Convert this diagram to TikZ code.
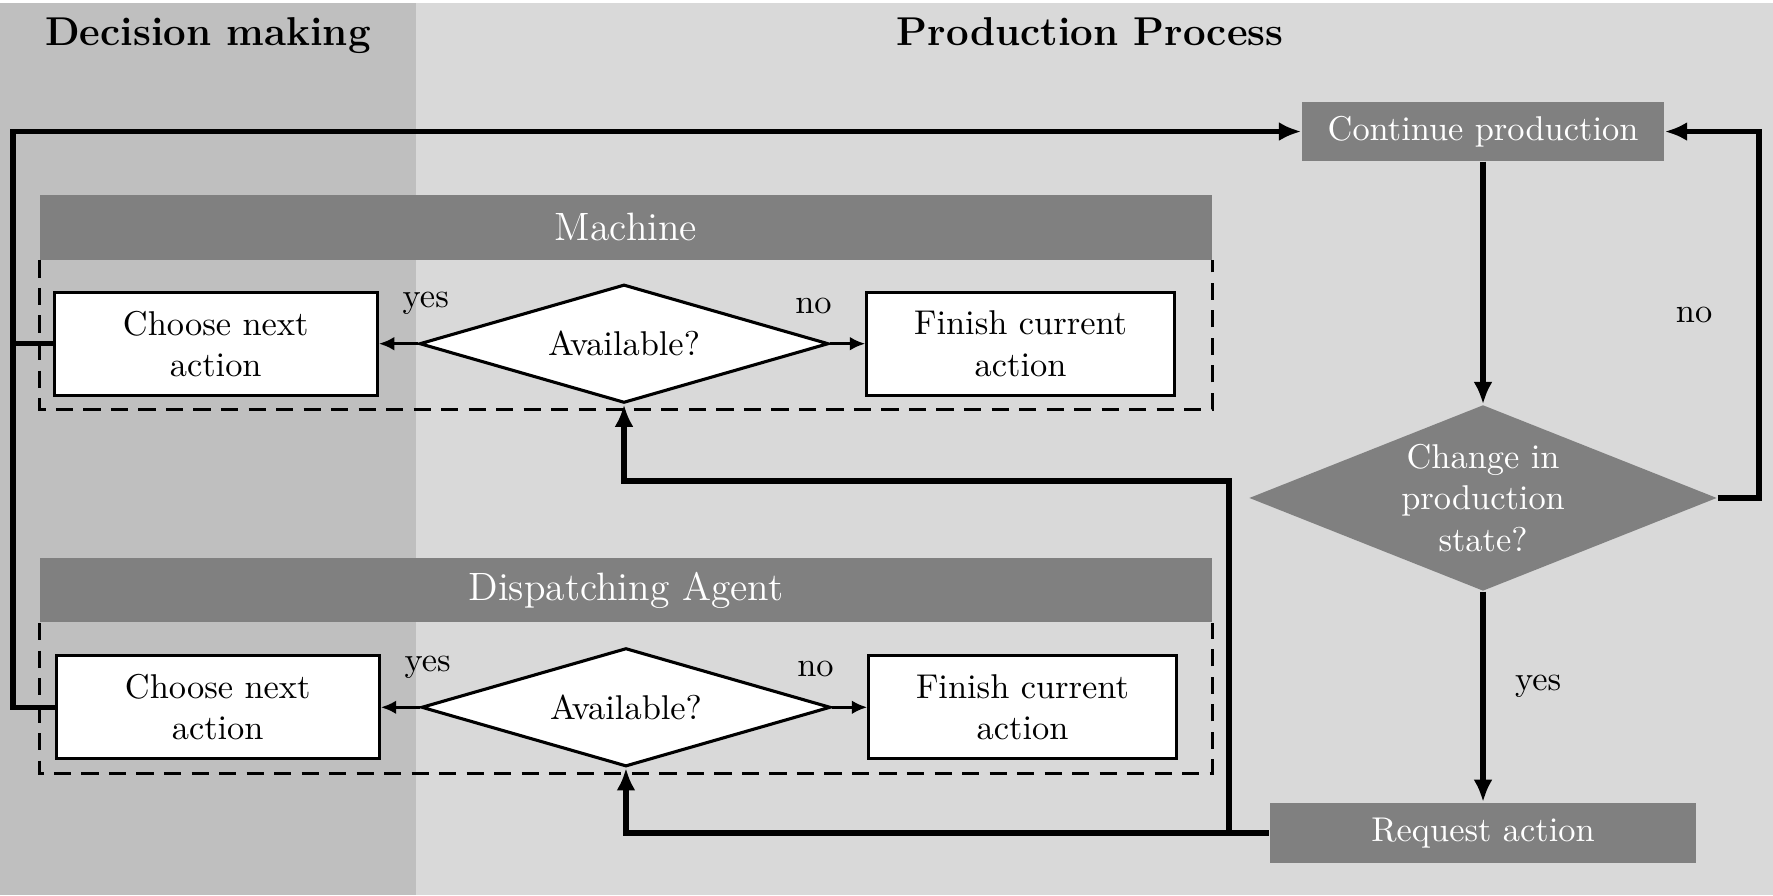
\documentclass[tikz,border=0pt]{standalone}
\usepackage{fontspec}
\usetikzlibrary{arrows.meta,positioning,shapes.geometric,backgrounds}

\begin{document}
\begin{tikzpicture}[
    node distance=0.4cm,
    choicebox/.style={
        rectangle, draw=black, fill=white, line width=0.9pt,
        minimum height=1.05cm, align=center
    },
    decide/.style={
        diamond, draw=black, fill=white, line width=0.9pt, aspect=3.5,
        minimum width=4.18cm, minimum height=1.21cm, inner sep=0pt
    },
    procbox/.style={
        rectangle, fill=gray, text=white, align=center
    },
    headbar/.style={
        rectangle, fill=gray, text=white, inner sep=0pt,
        minimum width=11.97cm, minimum height=0.66cm,
        font=\fontsize{11.5}{13.8}\selectfont
    },
    swimtitle/.style={
        font=\fontsize{11.7}{14}\selectfont\bfseries, anchor=base
    },
    groupline/.style={dash pattern=on 5pt off 3pt, line width=0.8pt},
    link/.style={line width=1.6pt},
    arrow/.style={link, -{Latex[length=6.5pt,width=5.5pt]}},
    thinarrow/.style={line width=0.9pt, -{Latex[length=4.5pt,width=4pt]}},
    lbl/.style={inner sep=0pt}
]
\useasboundingbox (0,0) rectangle (18.116,9.145);

% Lane titles
\node[swimtitle] (tdec) at (2.125,8.685) {Decision making};
\node[swimtitle] (tprod) at (11.138,8.685) {Production Process};

% Machine
\node[headbar] (hdrm) at (6.396,6.821) {Machine};
\node[decide, below=0.23cm of hdrm, xshift=-0.02cm] (avm) {Available?};
\node[choicebox, left=of avm, minimum width=3.3cm] (cnm) {Choose next\\action};
\node[choicebox, right=0.36cm of avm, minimum width=3.14cm] (fnm) {Finish current\\action};
\draw[groupline] (hdrm.south west) -- ++(0,-1.52) -| (hdrm.south east);
\draw[thinarrow] (avm.west) -- (cnm.east);
\draw[thinarrow] (avm.east) -- (fnm.west);
\node[lbl] (yesm) at ([shift={(0.08,0.41)}]avm.west) {yes};
\node[lbl] (nom) at ([shift={(-0.17,0.39)}]avm.east) {no};

% Dispatching Agent
\node[headbar] (hdrd) at (6.396,3.116) {Dispatching Agent};
\node[decide, below=0.24cm of hdrd] (avd) {Available?};
\node[choicebox, left=of avd, minimum width=3.3cm] (cnd) {Choose next\\action};
\node[choicebox, right=0.36cm of avd, minimum width=3.14cm] (fnd) {Finish current\\action};
\draw[groupline] (hdrd.south west) -- ++(0,-1.54) -| (hdrd.south east);
\draw[thinarrow] (avd.west) -- (cnd.east);
\draw[thinarrow] (avd.east) -- (fnd.west);
\node[lbl] (yesd) at ([shift={(0.08,0.41)}]avd.west) {yes};
\node[lbl] (nod) at ([shift={(-0.17,0.39)}]avd.east) {no};

% Production process
\node[procbox, minimum width=3.7cm, minimum height=0.6cm] (cont) at (15.153,7.801) {Continue production};
\node[procbox, diamond, aspect=2.5, inner sep=0pt, minimum width=4.78cm,
      minimum height=1.9cm, below=2.48cm of cont] (chg) {Change in\\production\\state?};
\node[procbox, minimum width=4.36cm, minimum height=0.62cm, below=2.15cm of chg] (req) {Request action};

\coordinate (lt) at (0.133,7.801);
\coordinate (rt) at (17.973,7.801);
\coordinate (mid) at (12.558,4.230);

% Connectors
\draw[arrow] (cnd.west) -| (lt) -- (cont.west);
\draw[link] (cnm.west) -- (cnm.west -| lt);
\draw[arrow] (cont) -- (chg);
\draw[arrow] (chg.east) -| node[lbl, pos=0.75, left=0.45cm] (noc) {no} (rt) -- (cont.east);
\draw[arrow] (chg) -- node[lbl, pos=0.45, right=0.3cm] (yesc) {yes} (req);
\draw[arrow] (req.west) -| (avd.south);
\draw[arrow] (req.west) -| (mid) -| (avm.south);

% Lanes
\begin{scope}[on background layer]
    \fill[gray!30] (0,0) rectangle (18.116,9.114);
    \fill[gray!50] (0,0) rectangle (4.251,9.114);
\end{scope}

\end{tikzpicture}
\end{document}
